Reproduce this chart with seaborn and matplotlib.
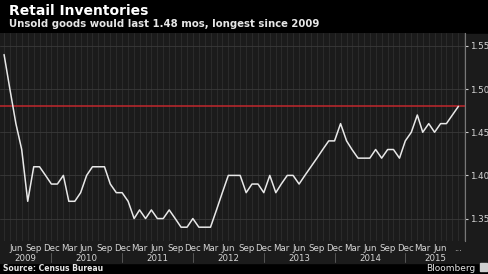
import pandas as pd
import seaborn as sns
import matplotlib.pyplot as plt
import matplotlib.dates as mdates
import matplotlib.transforms as mtransforms
from matplotlib.patches import Rectangle
from matplotlib.ticker import FuncFormatter

# Retail inventories-to-sales ratio, monthly Apr 2009 - Sep 2015
months = pd.date_range('2009-04-01', '2015-09-01', freq='MS')
ratio = [1.54, 1.50, 1.46, 1.43, 1.37, 1.41, 1.41, 1.40, 1.39,                  # 2009
         1.39, 1.40, 1.37, 1.37, 1.38, 1.40, 1.41, 1.41, 1.41, 1.39, 1.38, 1.38,  # 2010
         1.37, 1.35, 1.36, 1.35, 1.36, 1.35, 1.35, 1.36, 1.35, 1.34, 1.34, 1.35,  # 2011
         1.34, 1.34, 1.34, 1.36, 1.38, 1.40, 1.40, 1.40, 1.38, 1.39, 1.39, 1.38,  # 2012
         1.40, 1.38, 1.39, 1.40, 1.40, 1.39, 1.40, 1.41, 1.42, 1.43, 1.44, 1.44,  # 2013
         1.46, 1.44, 1.43, 1.42, 1.42, 1.42, 1.43, 1.42, 1.43, 1.43, 1.42, 1.44,  # 2014
         1.45, 1.47, 1.45, 1.46, 1.45, 1.46, 1.46, 1.47, 1.48]                    # 2015
latest = 1.48
y_ticks = [1.35, 1.40, 1.45, 1.50, 1.55]
years = [2009, 2010, 2011, 2012, 2013, 2014, 2015]

df = pd.DataFrame({'month': months, 'ratio': ratio})

sns.set_style('dark')
plt.rcParams['font.family'] = ['DejaVu Sans']

W, H = 488, 274
fig = plt.figure(figsize=(W / 100, H / 100), dpi=100, facecolor='black')
# dark panel behind plot and tick labels
fig.patches.append(Rectangle((0, 11 / H), 1, 229 / H, transform=fig.transFigure,
                             color='#1b1b1b', zorder=-5))
ax = fig.add_axes([0, 33 / H, 465 / W, 208 / H])
ax.set_zorder(2)
ax.set_facecolor('#1b1b1b')

sns.lineplot(data=df, x='month', y='ratio', ax=ax, color='#e8e8e8', lw=1.1)
ax.axhline(latest, color='#c0282d', lw=1.1, zorder=1)

x_left = pd.Timestamp('2009-03-11')
x_right = pd.Timestamp('2015-10-05')
ax.set_xlim(x_left, x_right)
ax.set_ylim(1.324, 1.565)
ax.set_xlabel('')
ax.set_ylabel('')

# grid
ax.grid(False)
ax.xaxis.set_major_locator(mdates.MonthLocator(bymonth=[3, 6, 9, 12]))
ax.xaxis.set_minor_locator(mdates.MonthLocator())
ax.grid(which='both', axis='x', color='#2e2e2e', lw=0.6)
ax.grid(which='major', axis='y', color='#3a3a3a', lw=0.6)
ax.set_axisbelow(True)


def month_label(v, pos):
    d = mdates.num2date(v)
    if d.year == months[-1].year and d.month == months[-1].month:
        return '...'
    return d.strftime('%b')


ax.xaxis.set_major_formatter(FuncFormatter(month_label))
ax.tick_params(axis='x', which='both', length=0, labelsize=6.2, labelcolor='#d6d6d6', pad=2.5)

ax.yaxis.tick_right()
ax.set_yticks(y_ticks)
ax.yaxis.set_major_formatter(FuncFormatter(lambda v, p: f'{v:.2f}'))
ax.tick_params(axis='y', which='major', right=True, left=False, length=2.5, width=0.8,
               color='#cccccc', labelsize=6.3, labelcolor='#d6d6d6', pad=1)

for s in ['left', 'top', 'bottom']:
    ax.spines[s].set_visible(False)
ax.spines['right'].set_color('#777777')
ax.spines['right'].set_linewidth(0.8)

# year row with separators
trans = mtransforms.blended_transform_factory(ax.transData, ax.transAxes)
seps = [mdates.date2num(pd.Timestamp(f'{y}-12-01')) for y in years[:-1]]
for s in seps:
    ax.plot([s, s], [-0.058, -0.101], transform=trans, clip_on=False,
            color='#555555', lw=0.7)
bounds = [mdates.date2num(x_left)] + seps + [mdates.date2num(x_right)]
for i, y in enumerate(years):
    ax.text((bounds[i] + bounds[i + 1]) / 2, -0.082, str(y), transform=trans,
            ha='center', va='center', fontsize=6.2, color='#d6d6d6')

# titles and footer
fig.text(9 / W, 1 - 15 / H, 'Retail Inventories', fontsize=10, fontweight='bold',
         color='white', ha='left', va='baseline')
fig.text(9 / W, 1 - 27 / H, 'Unsold goods would last 1.48 mos, longest since 2009',
         fontsize=7.3, fontweight='bold', color='#e6e6e6', ha='left', va='baseline')
fig.text(3 / W, 1 - 271 / H, 'Source: Census Bureau', fontsize=5.5, fontweight='bold',
         color='#e6e6e6', ha='left', va='baseline')
fig.text(475 / W, 1 - 271 / H, 'Bloomberg', fontsize=6.5, color='#e6e6e6',
         ha='right', va='baseline')
fig.patches.append(Rectangle((480 / W, 1 - 271 / H), 7 / W, 8 / H,
                             transform=fig.transFigure, color='#cfcfcf', zorder=2))

fig.savefig('out.png', dpi=100, facecolor='black')
